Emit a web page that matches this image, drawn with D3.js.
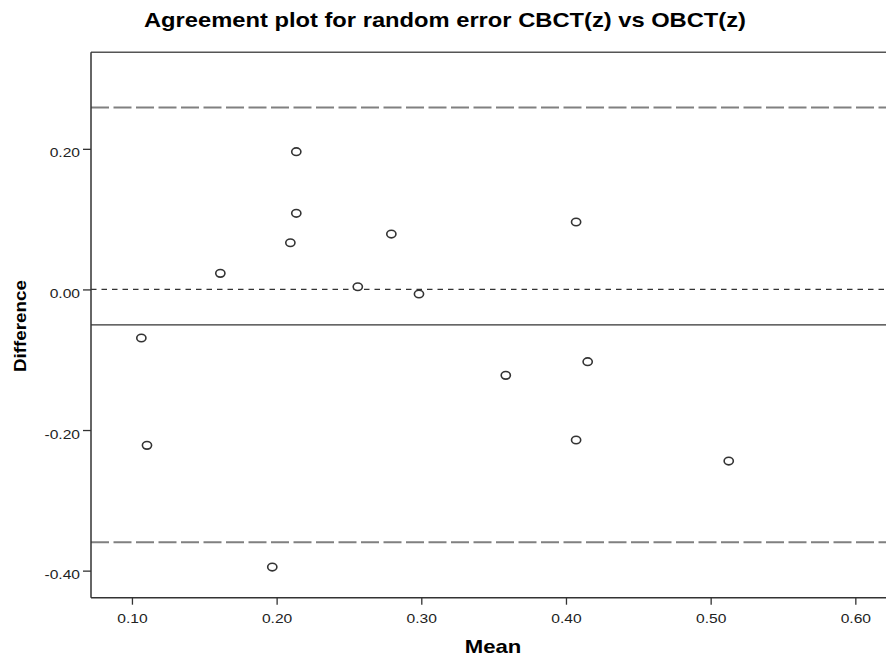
<!DOCTYPE html>
<html>
<head>
<meta charset="utf-8">
<script src="https://cdn.jsdelivr.net/npm/d3@7"></script>
<style>
  html, body { margin: 0; padding: 0; background: #fff; }
  svg { display: block; }
  text { font-family: "Liberation Sans", Arial, sans-serif; }
</style>
</head>
<body>
<svg id="chart" width="886" height="658"></svg>
<script>
// ---- data ----
const meanValues = [0.2136, 0.2136, 0.2095, 0.1611, 0.2561, 0.2984, 0.2793, 0.4070, 0.4150, 0.3584, 0.4070, 0.5125, 0.1065, 0.1104, 0.1970];
const diffValues = [0.1959, 0.1083, 0.0664, 0.0229, 0.0038, -0.0065, 0.0788, 0.0959, -0.1028, -0.1222, -0.2142, -0.2441, -0.0691, -0.2218, -0.3949];
const meanDiff = -0.0505;
const upperLimit = 0.2588;
const lowerLimit = -0.3598;
const xTicks = [0.10, 0.20, 0.30, 0.40, 0.50, 0.60];
const yTicks = [-0.40, -0.20, 0.00, 0.20];
const titleText = "Agreement plot for random error CBCT(z) vs OBCT(z)";
const xLabel = "Mean";
const yLabel = "Difference";

const points = meanValues.map((m, i) => ({ mean: m, diff: diffValues[i] }));

// ---- layout ----
const pLeft = 91, pRight = 886, pTop = 52.3, pBottom = 597.7;
const svg = d3.select("#chart");

const x = d3.scaleLinear().domain([0.0717, 0.6212]).range([pLeft, pRight]);
const y = d3.scaleLinear().domain([-0.4385, 0.3373]).range([pBottom, pTop]);
const fmt = d => d.toFixed(2);

function stretch(sel, factor) {
  sel.each(function () {
    const w = this.getComputedTextLength();
    d3.select(this).attr("textLength", w * factor).attr("lengthAdjust", "spacingAndGlyphs");
  });
}

// title
svg.append("text")
  .attr("x", 445).attr("y", 26.5)
  .attr("text-anchor", "middle")
  .attr("font-size", 20.5).attr("font-weight", "bold").attr("fill", "#000")
  .attr("textLength", 602).attr("lengthAdjust", "spacingAndGlyphs")
  .text(titleText);

// reference lines
const plot = svg.append("g");
plot.append("line")
  .attr("x1", pLeft).attr("x2", pRight)
  .attr("y1", y(upperLimit)).attr("y2", y(upperLimit))
  .attr("stroke", "#808080").attr("stroke-width", 2)
  .attr("stroke-dasharray", "18,4.5");
plot.append("line")
  .attr("x1", pLeft).attr("x2", pRight)
  .attr("y1", y(lowerLimit)).attr("y2", y(lowerLimit))
  .attr("stroke", "#808080").attr("stroke-width", 2)
  .attr("stroke-dasharray", "18,4.5");
plot.append("line")
  .attr("x1", pLeft).attr("x2", pRight)
  .attr("y1", y(0)).attr("y2", y(0))
  .attr("stroke", "#333").attr("stroke-width", 1.2)
  .attr("stroke-dasharray", "5.5,5");
plot.append("line")
  .attr("x1", pLeft).attr("x2", pRight)
  .attr("y1", y(meanDiff)).attr("y2", y(meanDiff))
  .attr("stroke", "#333").attr("stroke-width", 1.3);

// frame (top line)
svg.append("line")
  .attr("x1", pLeft).attr("x2", pRight)
  .attr("y1", pTop).attr("y2", pTop)
  .attr("stroke", "#555").attr("stroke-width", 1.5);

// axes
const xAxis = svg.append("g")
  .attr("transform", `translate(0,${pBottom})`)
  .call(d3.axisBottom(x).tickValues(xTicks).tickFormat(fmt).tickSizeOuter(0).tickSize(7).tickPadding(6));
const yAxis = svg.append("g")
  .attr("transform", `translate(${pLeft},0)`)
  .call(d3.axisLeft(y).tickValues(yTicks).tickFormat(fmt).tickSizeOuter(0).tickSize(8).tickPadding(3));

[xAxis, yAxis].forEach(a => {
  a.select(".domain").attr("stroke", "#333").attr("stroke-width", 1.5);
  a.selectAll(".tick line").attr("stroke", "#333").attr("stroke-width", 1.3);
  a.selectAll(".tick text")
    .attr("font-family", "'Liberation Sans', Arial, sans-serif")
    .attr("font-size", 13).attr("fill", "#222");
});
xAxis.select(".domain").attr("d", `M${pLeft},0H${pRight}`);
yAxis.select(".domain").attr("d", `M0,${pBottom}V${pTop}`);
yAxis.selectAll(".tick text").attr("dy", "0.62em");
xAxis.selectAll(".tick text").attr("dy", "0.95em");
stretch(xAxis.selectAll(".tick text"), 1.2);
stretch(yAxis.selectAll(".tick text"), 1.2);

// axis titles
svg.append("text")
  .attr("x", 493).attr("y", 653)
  .attr("text-anchor", "middle")
  .attr("font-size", 18.5).attr("font-weight", "bold").attr("fill", "#000")
  .attr("textLength", 56.6).attr("lengthAdjust", "spacingAndGlyphs")
  .text(xLabel);
svg.append("text")
  .attr("transform", "translate(25.5,326) rotate(-90)")
  .attr("text-anchor", "middle")
  .attr("font-size", 17).attr("font-weight", "bold").attr("fill", "#000")
  .attr("textLength", 92).attr("lengthAdjust", "spacingAndGlyphs")
  .text(yLabel);

// points
svg.append("g").selectAll("ellipse")
  .data(points)
  .join("ellipse")
  .attr("cx", d => x(d.mean))
  .attr("cy", d => y(d.diff))
  .attr("rx", 4.6)
  .attr("ry", 3.8)
  .attr("fill", "#fff")
  .attr("stroke", "#333")
  .attr("stroke-width", 1.6);
</script>
</body>
</html>
